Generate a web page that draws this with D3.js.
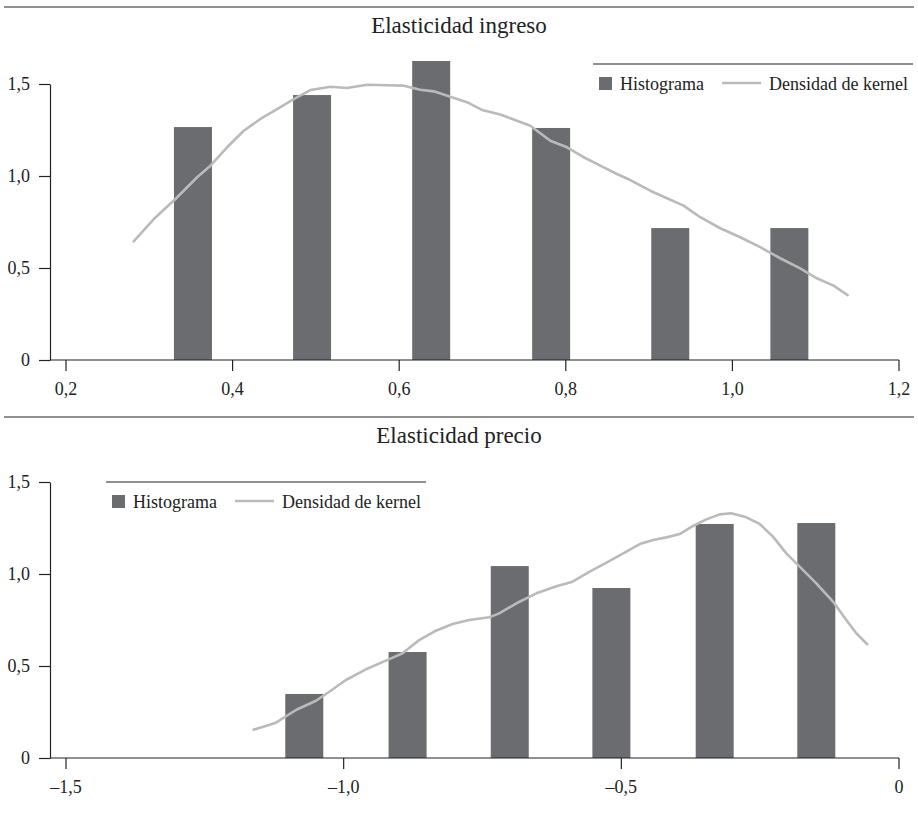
<!DOCTYPE html>
<html>
<head>
<meta charset="utf-8">
<script src="https://cdn.jsdelivr.net/npm/d3@7"></script>
<style>
  html, body { margin: 0; padding: 0; background: #fff; }
  svg { display: block; }
  text { font-family: "Liberation Serif", "Times New Roman", serif; fill: #222; }
</style>
</head>
<body>
<svg id="chart" width="918" height="813"></svg>
<script>
// Elasticidad ingreso
const ingresoBins = [0.353, 0.496, 0.639, 0.783, 0.926, 1.069];
const ingresoHist = [1.266, 1.44, 1.625, 1.261, 0.717, 0.717];
const ingresoKernelX = [0.281, 0.306, 0.332, 0.358, 0.374, 0.394, 0.414, 0.434, 0.454, 0.474,
  0.494, 0.518, 0.538, 0.562, 0.586, 0.606, 0.626, 0.642, 0.662, 0.682, 0.700, 0.722, 0.758,
  0.782, 0.802, 0.822, 0.842, 0.862, 0.878, 0.902, 0.922, 0.942, 0.962, 0.986, 1.010, 1.034,
  1.058, 1.082, 1.102, 1.122, 1.140];
const ingresoKernelY = [0.640, 0.766, 0.875, 0.993, 1.056, 1.156, 1.246, 1.310, 1.364, 1.418,
  1.467, 1.485, 1.478, 1.496, 1.493, 1.491, 1.469, 1.460, 1.431, 1.401, 1.359, 1.334, 1.273,
  1.192, 1.156, 1.102, 1.056, 1.011, 0.978, 0.920, 0.879, 0.839, 0.776, 0.716, 0.667, 0.613,
  0.553, 0.498, 0.444, 0.404, 0.349];
const ingresoTicks = [0.2, 0.4, 0.6, 0.8, 1.0, 1.2];

// Elasticidad precio
const precioBins = [-1.070, -0.884, -0.700, -0.517, -0.331, -0.148];
const precioHist = [0.348, 0.576, 1.043, 0.924, 1.272, 1.277];
const precioKernelX = [-1.163, -1.121, -1.085, -1.049, -1.025, -0.995, -0.959, -0.923, -0.893,
  -0.863, -0.833, -0.803, -0.773, -0.737, -0.719, -0.688, -0.652, -0.616, -0.587, -0.556,
  -0.520, -0.490, -0.466, -0.442, -0.418, -0.394, -0.370, -0.346, -0.322, -0.301, -0.274,
  -0.250, -0.226, -0.202, -0.178, -0.148, -0.118, -0.094, -0.076, -0.055];
const precioKernelY = [0.152, 0.192, 0.261, 0.311, 0.360, 0.424, 0.482, 0.529, 0.569,
  0.641, 0.692, 0.728, 0.750, 0.765, 0.786, 0.841, 0.895, 0.933, 0.958, 1.013,
  1.071, 1.121, 1.163, 1.185, 1.199, 1.217, 1.261, 1.297, 1.324, 1.330, 1.308,
  1.272, 1.203, 1.112, 1.040, 0.949, 0.850, 0.750, 0.678, 0.614];
const precioTicks = [-1.5, -1.0, -0.5, 0];

const yTicks = [0, 0.5, 1.0, 1.5];

// colores
const barColor = "#6b6c70";
const kernelColor = "#bababa";
const axisColor = "#222";

const svg = d3.select("#chart");

// formato con coma decimal
const fmt = (v) => {
  if (v === 0) return "0";
  const s = Math.abs(v).toFixed(1).replace(".", ",");
  return v < 0 ? "\u2013" + s : s;
};

const drawPanel = (p) => {
  // linea superior y titulo
  svg.append("line")
    .attr("x1", 4).attr("x2", 914)
    .attr("y1", p.titleY - 26).attr("y2", p.titleY - 26)
    .attr("stroke", axisColor).attr("stroke-width", 1.2);

  svg.append("text")
    .attr("x", 459).attr("y", p.titleY)
    .attr("text-anchor", "middle")
    .style("font-size", "23px")
    .text(p.title);

  const g = svg.append("g").attr("transform", `translate(0,${p.offset})`);

  const x = d3.scaleLinear().domain(p.xDomain).range([65.5, 898.5]);
  const y = d3.scaleLinear().domain([0, 1.5]).range([360, 84]);

  // barras
  g.selectAll(".bar")
    .data(p.bins.map((b, i) => ({ b, v: p.hist[i] })))
    .enter()
    .append("rect")
    .attr("x", (d) => x(d.b) - 19)
    .attr("y", (d) => y(d.v))
    .attr("width", 38)
    .attr("height", (d) => y(0) - y(d.v))
    .attr("fill", barColor);

  // densidad de kernel
  const line = d3.line()
    .x((d) => x(d[0]))
    .y((d) => y(d[1]));

  g.append("path")
    .datum(p.kx.map((v, i) => [v, p.ky[i]]))
    .attr("d", line)
    .attr("fill", "none")
    .attr("stroke", kernelColor)
    .attr("stroke-width", 2.6)
    .attr("stroke-linejoin", "round");

  // eje Y
  const yAxis = g.append("g")
    .attr("transform", "translate(50,0)")
    .call(d3.axisLeft(y).tickValues(yTicks).tickFormat(fmt).tickSize(11).tickSizeOuter(0).tickPadding(9));
  yAxis.selectAll("path, line").attr("stroke", axisColor).attr("stroke-width", 1.2);
  yAxis.selectAll("text").style("font-size", "18px").attr("fill", "#222").style("font-family", "Liberation Serif, serif");

  // eje X
  const xAxis = g.append("g")
    .attr("transform", `translate(0,${y(0)})`)
    .call(d3.axisBottom(x).tickValues(p.xTicks).tickFormat(fmt).tickSize(11).tickSizeOuter(0).tickPadding(11));
  xAxis.select(".domain").remove();
  xAxis.selectAll("line").attr("stroke", axisColor).attr("stroke-width", 1.2);
  xAxis.selectAll("text").style("font-size", "18px").attr("fill", "#222").style("font-family", "Liberation Serif, serif");

  g.append("line")
    .attr("x1", 50).attr("x2", x(p.xDomain[1]) + 0.5)
    .attr("y1", y(0)).attr("y2", y(0))
    .attr("stroke", axisColor).attr("stroke-width", 1.2);

  // leyenda
  const lg = g.append("g").attr("transform", `translate(${p.legendX},${p.legendY})`);
  lg.append("line")
    .attr("x1", 0).attr("x2", 320)
    .attr("y1", 0).attr("y2", 0)
    .attr("stroke", axisColor).attr("stroke-width", 1.2);
  lg.append("rect")
    .attr("x", 6).attr("y", 13)
    .attr("width", 13).attr("height", 13)
    .attr("fill", barColor);
  lg.append("text")
    .attr("x", 27).attr("y", 25.5)
    .style("font-size", "18px")
    .text("Histograma");
  lg.append("line")
    .attr("x1", 129).attr("x2", 168)
    .attr("y1", 19).attr("y2", 19)
    .attr("stroke", kernelColor).attr("stroke-width", 2.6);
  lg.append("text")
    .attr("x", 176).attr("y", 25.5)
    .style("font-size", "18px")
    .text("Densidad de kernel");
};

drawPanel({
  title: "Elasticidad ingreso",
  titleY: 33,
  offset: 0,
  xDomain: [0.2, 1.2],
  xTicks: ingresoTicks,
  bins: ingresoBins,
  hist: ingresoHist,
  kx: ingresoKernelX,
  ky: ingresoKernelY,
  legendX: 593,
  legendY: 64
});

drawPanel({
  title: "Elasticidad precio",
  titleY: 443,
  offset: 398,
  xDomain: [-1.5, 0],
  xTicks: precioTicks,
  bins: precioBins,
  hist: precioHist,
  kx: precioKernelX,
  ky: precioKernelY,
  legendX: 106,
  legendY: 84
});
</script>
</body>
</html>
